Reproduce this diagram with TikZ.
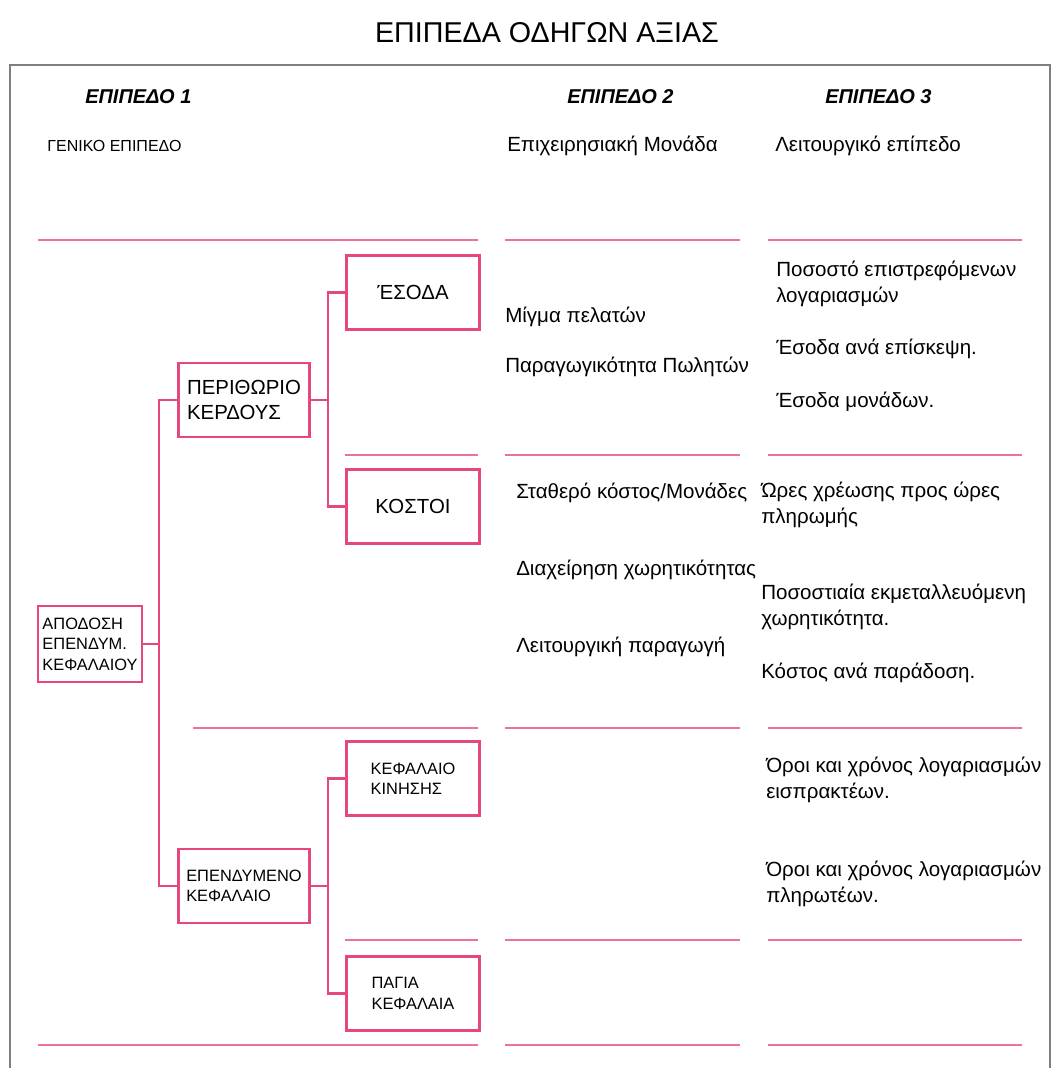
\documentclass[tikz,border=0pt]{standalone}
\usepackage{fontspec}
\setmainfont{Liberation Sans}
\usepackage{tikz}
\usetikzlibrary{positioning, calc}
\definecolor{BoxPink}{RGB}{230,72,125}
\definecolor{RulePink}{RGB}{238,112,158}
\definecolor{FrameGray}{RGB}{125,125,130}

\begin{document}
\begin{tikzpicture}[
        x=0.75pt, y=-0.75pt,
        box/.style={draw=BoxPink, line width=2pt, fill=white, align=left,
                    inner sep=2pt, minimum width=100pt, minimum height=55.5pt},
        bigbox/.style={box, font=\fontsize{15.3}{19}\selectfont},
        smallbox/.style={box, font=\fontsize{12.3}{15.3}\selectfont},
        link/.style={draw=BoxPink, line width=2pt},
        rule/.style={draw=RulePink, line width=1.3pt},
        frame/.style={draw=FrameGray, line width=1.5pt},
        level/.style={anchor=base west, align=left, inner sep=0pt,
                      font=\fontsize{15.4}{19}\selectfont},
        head/.style={anchor=base west, inner sep=0pt,
                     font=\bfseries\itshape\fontsize{15}{18}\selectfont}
      ]
        \fill[white] (0,0) rectangle (1053,1068);
        \useasboundingbox (0,0) rectangle (1053,1068);
        \node[font=\fontsize{21.5}{25}\selectfont, anchor=base] (title) at (547,42)
          {ΕΠΙΠΕΔΑ ΟΔΗΓΩΝ ΑΞΙΑΣ};
        \draw[frame] (10,1068) -- (10,65) -- (1050,65) -- (1050,1068);
        % column heads
        \node[head] (lev1) at (85,103) {ΕΠΙΠΕΔΟ 1};
        \node[head] (lev2) at (567,103) {ΕΠΙΠΕΔΟ 2};
        \node[head] (lev3) at (825,103) {ΕΠΙΠΕΔΟ 3};
        \node[anchor=base west, inner sep=0pt, font=\fontsize{12}{14}\selectfont] (gen) at (47,151)
          {ΓΕΝΙΚΟ ΕΠΙΠΕΔΟ};
        \node[level] (unit) at (507,151) {Επιχειρησιακή Μονάδα};
        \node[level] (oper) at (775,151) {Λειτουργικό επίπεδο};
        % separator rules
        \foreach \y in {240,455,728,940,1045}
          \draw[rule] (505,\y) -- (740,\y) (768,\y) -- (1022,\y);
        \draw[rule] (38,240) -- (478,240);
        \draw[rule] (345,455) -- (478,455);
        \draw[rule] (193,728) -- (478,728);
        \draw[rule] (345,940) -- (478,940);
        \draw[rule] (38,1045) -- (478,1045);
        % driver tree
        \node[smallbox, minimum width=78pt, minimum height=57pt] (roi) at (90,644)
          {ΑΠΟΔΟΣΗ\\ΕΠΕΝΔΥΜ.\\ΚΕΦΑΛΑΙΟΥ};
        \node[bigbox, minimum width=98pt] (margin) at (244,400) {ΠΕΡΙΘΩΡΙΟ\\ΚΕΡΔΟΥΣ};
        \node[smallbox, minimum width=98pt] (invested) at (244,886) {ΕΠΕΝΔΥΜΕΝΟ\\ΚΕΦΑΛΑΙΟ};
        \node[bigbox] (revenue) at (413,292.5) {ΈΣΟΔΑ};
        \node[bigbox] (costs) at (413,506.5) {ΚΟΣΤΟΙ};
        \node[smallbox] (working) at (413,778.5) {ΚΕΦΑΛΑΙΟ\\ΚΙΝΗΣΗΣ};
        \node[smallbox] (fixed) at (413,993.5) {ΠΑΓΙΑ\\ΚΕΦΑΛΑΙΑ};
        \coordinate (s1) at (159,0);
        \coordinate (s2) at (328,0);
        \draw[link] (roi.east) -- (roi.east -| s1);
        \draw[link] (margin.west) -- (margin.west -| s1) |- (invested.west);
        \draw[link] (margin.east) -- (margin.east -| s2);
        \draw[link] (revenue.west) -- (revenue.west -| s2) |- (costs.west);
        \draw[link] (invested.east) -- (invested.east -| s2);
        \draw[link] (working.west) -- (working.west -| s2) |- (fixed.west);
        % level 2 drivers
        \node[level] (mix) at (505,322) {Μίγμα πελατών};
        \node[level] (sales) at (505,372) {Παραγωγικότητα Πωλητών};
        \node[level] (fixcost) at (516,498) {Σταθερό κόστος/Μονάδες};
        \node[level] (capmgmt) at (516,575) {Διαχείρηση χωρητικότητας};
        \node[level] (prod) at (516,652) {Λειτουργική παραγωγή};
        % level 3 drivers (base = last line)
        \node[level] (returns) at (776,302) {Ποσοστό επιστρεφόμενων\\λογαριασμών};
        \node[level] (visit) at (776,354) {Έσοδα ανά επίσκεψη.};
        \node[level] (units) at (776,407) {Έσοδα μονάδων.};
        \node[level] (hours) at (761,523) {Ώρες χρέωσης προς ώρες\\πληρωμής};
        \node[level] (usage) at (761,625) {Ποσοστιαία εκμεταλλευόμενη\\χωρητικότητα.};
        \node[level] (deliv) at (761,678) {Κόστος ανά παράδοση.};
        \node[level] (recv) at (766,798) {Όροι και χρόνος λογαριασμών\\εισπρακτέων.};
        \node[level] (pay) at (766,902) {Όροι και χρόνος λογαριασμών\\πληρωτέων.};
      \end{tikzpicture}
\end{document}
